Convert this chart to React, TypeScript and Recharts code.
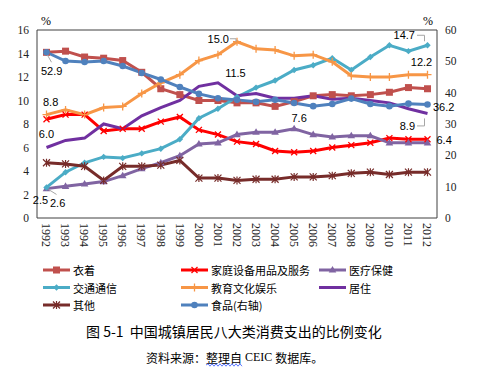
import React from 'react';
import { LineChart, Line, XAxis, YAxis, LabelList, ReferenceLine } from 'recharts';

const years = ['1992','1993','1994','1995','1996','1997','1998','1999','2000','2001','2002','2003','2004','2005','2006','2007','2008','2009','2010','2011','2012'];
const clothing = [14.1,14.2,13.7,13.6,13.4,12.4,11.0,10.5,10.0,10.0,9.8,9.8,9.5,9.9,10.4,10.5,10.4,10.5,10.7,11.1,11.0];
const household = [8.4,8.8,8.8,7.4,7.6,7.6,8.2,8.6,7.5,7.1,6.5,6.3,5.7,5.6,5.7,6.0,6.2,6.4,6.8,6.7,6.7];
const medical = [2.5,2.7,2.9,3.1,3.6,4.2,4.7,5.3,6.3,6.4,7.1,7.3,7.3,7.6,7.1,6.9,7.0,7.0,6.4,6.4,6.4];
const transport = [2.6,3.9,4.7,5.2,5.1,5.5,5.9,6.7,8.5,9.3,10.3,11.1,11.7,12.6,13.0,13.6,12.6,13.7,14.7,14.2,14.7];
const education = [8.8,9.2,8.8,9.4,9.5,10.6,11.5,12.2,13.4,13.9,15.0,14.4,14.3,13.8,13.9,13.3,12.1,12.0,12.0,12.2,12.2];
const housing = [6.0,6.6,6.8,8.0,7.6,8.7,9.4,10.0,11.2,11.5,10.4,10.6,10.2,10.2,10.4,10.1,10.2,10.0,9.8,9.3,8.9];
const others = [4.7,4.6,4.4,3.2,4.4,4.4,4.5,4.9,3.4,3.4,3.2,3.3,3.3,3.5,3.5,3.6,3.8,3.9,3.7,3.9,3.9];
const food = [52.9,50.1,49.8,50.1,48.5,46.3,44.2,41.8,39.6,38.2,37.7,37.1,37.7,36.7,35.7,36.4,38.1,36.4,35.7,36.5,36.2];

const leftTicks = [0,2,4,6,8,10,12,14,16];
const rightTicks = [0,10,20,30,40,50,60];

const names = {
  clothing: '衣着', household: '家庭设备用品及服务', medical: '医疗保健',
  transport: '交通通信', education: '教育文化娱乐', housing: '居住',
  others: '其他', food: '食品(右轴)',
};

const colors = {
  clothing: '#C0504D', household: '#FF0000', medical: '#8064A2',
  transport: '#4BACC6', education: '#F79646', housing: '#7030A0',
  others: '#772C2A', food: '#4F81BD',
};

const data = years.map((y, i) => ({
  year: y,
  clothing: clothing[i], household: household[i], medical: medical[i], transport: transport[i],
  education: education[i], housing: housing[i], others: others[i], food: food[i],
}));

type Shape = 'square' | 'x' | 'triangle' | 'diamond' | 'plus' | 'none' | 'star' | 'circle';

const drawMarker = (shape: Shape, cx: number, cy: number, color: string, key?: any) => {
  switch (shape) {
    case 'square':
      return <rect key={key} x={cx - 3.5} y={cy - 3.5} width={7} height={7} fill={color} />;
    case 'circle':
      return <circle key={key} cx={cx} cy={cy} r={3.3} fill={color} />;
    case 'triangle':
      return <path key={key} d={`M${cx},${cy - 4}L${cx + 3.8},${cy + 2.6}L${cx - 3.8},${cy + 2.6}Z`} fill={color} />;
    case 'diamond':
      return <path key={key} d={`M${cx},${cy - 3.2}L${cx + 3.2},${cy}L${cx},${cy + 3.2}L${cx - 3.2},${cy}Z`} fill={color} />;
    case 'x':
      return <path key={key} d={`M${cx - 3},${cy - 3}L${cx + 3},${cy + 3}M${cx - 3},${cy + 3}L${cx + 3},${cy - 3}`} stroke={color} strokeWidth={1.3} fill="none" />;
    case 'plus':
      return <path key={key} d={`M${cx},${cy - 4}L${cx},${cy + 4}M${cx - 4},${cy}L${cx + 4},${cy}`} stroke={color} strokeWidth={1.3} fill="none" />;
    case 'star':
      return <path key={key} d={`M${cx - 3.5},${cy - 3.5}L${cx + 3.5},${cy + 3.5}M${cx - 3.5},${cy + 3.5}L${cx + 3.5},${cy - 3.5}M${cx},${cy - 4}L${cx},${cy + 4}`} stroke={color} strokeWidth={1.2} fill="none" />;
    default:
      return <g key={key} />;
  }
};

const dotFor = (shape: Shape, color: string) => (props: any) => {
  const { cx, cy, index } = props;
  if (cx == null || cy == null) return <g key={index} />;
  return drawMarker(shape, cx, cy, color, index);
};

type LabelCfg = { dx: number; dy: number; anchor: 'start' | 'middle' | 'end'; leader?: number[][] };

const labelFor = (cfg: Record<number, LabelCfg>) => (props: any) => {
  const { x, y, value, index } = props;
  const c = cfg[index];
  if (!c || x == null || y == null) return null;
  return (
    <g key={`lbl-${index}`}>
      {c.leader && (
        <polyline
          points={c.leader.map((p) => `${x + p[0]},${y + p[1]}`).join(' ')}
          fill="none" stroke="#A6A6A6" strokeWidth={1}
        />
      )}
      <text x={x + c.dx} y={y + c.dy} textAnchor={c.anchor} dominantBaseline="central"
        fontSize={11} fontFamily="'Liberation Sans', Arial, sans-serif" fill="#000">
        {Number(value).toFixed(1)}
      </text>
    </g>
  );
};

const XTick = (props: any) => {
  const { x, y, payload } = props;
  return (
    <text transform={`translate(${x - 4.3},${y - 3}) rotate(90)`} textAnchor="start"
      fontSize={12} fontFamily="'Liberation Serif', 'Times New Roman', serif" fill="#222">
      {payload.value}
    </text>
  );
};

const series: { key: keyof typeof names; shape: Shape; axis: string; labels?: Record<number, LabelCfg> }[] = [
  { key: 'clothing', shape: 'square', axis: 'left' },
  { key: 'household', shape: 'x', axis: 'left' },
  { key: 'medical', shape: 'triangle', axis: 'left', labels: {
    0: { dx: -6, dy: 11.5, anchor: 'middle' },
    13: { dx: 5, dy: -11, anchor: 'middle' },
    20: { dx: 9, dy: -2.5, anchor: 'start' },
  } },
  { key: 'transport', shape: 'diamond', axis: 'left', labels: {
    0: { dx: 3.5, dy: 16, anchor: 'start', leader: [[2, 2], [10, 7]] },
    20: { dx: -12.5, dy: -10, anchor: 'end', leader: [[-10.5, -10], [-3, -10], [-3, -4]] },
  } },
  { key: 'education', shape: 'plus', axis: 'left', labels: {
    0: { dx: -3.5, dy: -13, anchor: 'start' },
    10: { dx: -8, dy: -3, anchor: 'end', leader: [[-7, -3], [-1, -3], [-1, 0]] },
    20: { dx: -6, dy: -12.5, anchor: 'middle' },
  } },
  { key: 'housing', shape: 'none', axis: 'left', labels: {
    0: { dx: 0, dy: -13.5, anchor: 'middle' },
    9: { dx: 17.5, dy: -10, anchor: 'middle' },
    20: { dx: -12.5, dy: 12.5, anchor: 'end', leader: [[-10.5, 12.5], [-3, 12.5], [-3, 5]] },
  } },
  { key: 'others', shape: 'star', axis: 'left' },
  { key: 'food', shape: 'circle', axis: 'right', labels: {
    0: { dx: -5.5, dy: 19, anchor: 'start', leader: [[1, 3], [5, 10]] },
    20: { dx: 5.5, dy: 2, anchor: 'start' },
  } },
];

const cjk = "'Noto Sans CJK SC', 'Noto Sans', sans-serif";

const legendRows = [
  ['clothing', 'household', 'medical'],
  ['transport', 'education', 'housing'],
  ['others', 'food'],
];
const legendCols = [43, 181, 319];
const legendRowY = [270, 287.5, 305];

const wavy = (x0: number, x1: number, y: number) => {
  let d = `M${x0},${y}`;
  let up = true;
  for (let x = x0 + 2; x <= x1; x += 2) {
    d += `L${x},${y + (up ? -1.2 : 1.2)}`;
    up = !up;
  }
  return d;
};

export default function App() {
  const shapeOf = (k: string) => series.find((s) => s.key === k)!.shape;
  return (
    <div style={{ position: 'absolute', left: 0, top: 0, width: 477, height: 375, background: '#fff', overflow: 'hidden' }}>
      <div style={{ position: 'absolute', left: 0, top: 0 }}>
        <LineChart width={477} height={253} data={data} margin={{ top: 30, right: 0, bottom: 0, left: 0 }}>
          <XAxis dataKey="year" height={35} interval={0} tickLine={false} axisLine={{ stroke: '#404040' }}
            padding={{ left: 9.5, right: 9.5 }} tick={<XTick />} />
          <YAxis yAxisId="left" width={37} domain={[0, 16]} ticks={leftTicks} tickLine={false}
            axisLine={{ stroke: '#404040' }} interval={0}
            tick={{ fontSize: 11.5, fill: '#222', fontFamily: "'Liberation Serif', serif" }} />
          <YAxis yAxisId="right" orientation="right" width={40} domain={[0, 60]} ticks={rightTicks} tickLine={false}
            axisLine={{ stroke: '#404040' }} interval={0}
            tick={{ fontSize: 11.5, fill: '#222', fontFamily: "'Liberation Serif', serif" }} />
          <ReferenceLine yAxisId="left" y={16} stroke="#404040" strokeWidth={1} ifOverflow="visible" />
          {series.map((s) => (
            <Line key={s.key} yAxisId={s.axis} dataKey={s.key} name={names[s.key]} stroke={colors[s.key]}
              strokeWidth={3} isAnimationActive={false} dot={dotFor(s.shape, colors[s.key])} activeDot={false}>
              {s.labels && <LabelList dataKey={s.key} content={labelFor(s.labels)} />}
            </Line>
          ))}
        </LineChart>
      </div>
      <div style={{ position: 'absolute', left: 41, top: 14, fontSize: 12, fontFamily: "'Liberation Serif', serif" }}>%</div>
      <div style={{ position: 'absolute', left: 423, top: 14, fontSize: 12, fontFamily: "'Liberation Serif', serif" }}>%</div>
      <svg style={{ position: 'absolute', left: 0, top: 0 }} width={477} height={375} pointerEvents="none">
        {legendRows.map((row, ri) =>
          row.map((k, ci) => {
            const x0 = legendCols[ci];
            const y0 = legendRowY[ri];
            const c = (colors as any)[k];
            return (
              <g key={k}>
                <line x1={x0} y1={y0} x2={x0 + 27} y2={y0} stroke={c} strokeWidth={3} />
                {drawMarker(shapeOf(k), x0 + 13.5, y0, c)}
                <text x={x0 + 30} y={y0} dominantBaseline="central" fontSize={11} fontFamily={cjk} fill="#000">
                  {(names as any)[k]}
                </text>
              </g>
            );
          })
        )}
        <text x={86} y={331} dominantBaseline="central" fontSize={14} fontFamily={cjk} fill="#000" style={{ whiteSpace: 'pre' }}>
          {'图 5-1\u00a0\u00a0中国城镇居民八大类消费支出的比例变化'}
        </text>
        <text x={146} y={357} dominantBaseline="central" fontSize={12} fontFamily={cjk} fill="#000" style={{ whiteSpace: 'pre' }}>
          {'资料来源：整理自'}
          <tspan fontFamily="'Liberation Serif', serif">{'\u00a0CEIC\u00a0'}</tspan>
          {'数据库。'}
        </text>
        <path d={wavy(206, 242, 365)} fill="none" stroke="#3355ff" strokeWidth={0.8} />
      </svg>
    </div>
  );
}
